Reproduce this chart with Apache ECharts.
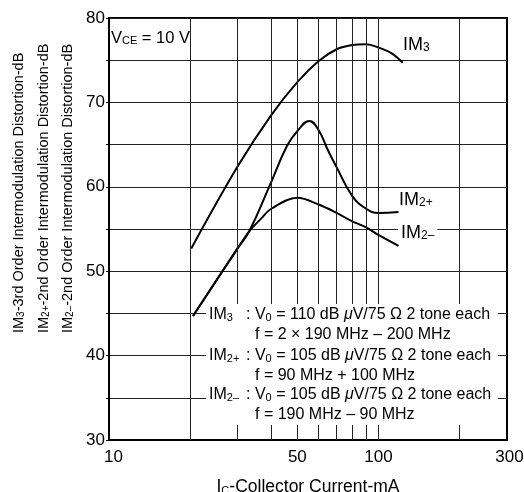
<!DOCTYPE html>
<html>
<head>
<meta charset="utf-8">
<script src="https://cdn.jsdelivr.net/npm/echarts@6/dist/echarts.min.js"></script>
<style>
  html, body { margin: 0; padding: 0; background: #fff; }
  #main { width: 524px; height: 492px; }
</style>
</head>
<body>
<div id="main"></div>
<script>
// collector current (mA) and distortion (dB)
var im3X = [20.2, 30, 40, 50, 60, 70, 80, 90, 100, 112, 123];
var im3Y = [52.7, 62.4, 68.5, 72.4, 74.9, 76.3, 76.8, 76.9, 76.5, 75.8, 74.7];

var im2pX = [20.5, 30, 33.1, 39.3, 45.7, 50, 55.4, 60, 65, 70, 80, 90, 100, 118.7];
var im2pY = [44.7, 52.7, 54.7, 60.0, 64.8, 66.6, 67.8, 66.7, 64.3, 62.3, 58.9, 57.4, 56.9, 57.0];

var im2mX = [20.5, 30, 33.1, 36.6, 40, 50, 60, 70, 80, 90, 100, 118.7];
var im2mY = [44.7, 52.7, 54.7, 56.2, 57.4, 58.7, 57.9, 56.9, 55.9, 55.2, 54.3, 53.0];

var xLabels = [10, 50, 100, 300];
var xGrid = [20, 30, 40, 50, 60, 70, 80, 90, 100, 200];

function pairs(xs, ys) {
  return xs.map(function (x, i) { return [x, ys[i]]; });
}

var font = '"Liberation Sans", Arial, sans-serif';
function richSet(size, subSize) {
  return {
    n: { fontSize: size, fontFamily: font, color: '#000' },
    s: { fontSize: subSize, fontFamily: font, color: '#000', verticalAlign: 'bottom' },
    i: { fontSize: size, fontFamily: font, fontStyle: 'italic', color: '#000' }
  };
}
var richNote = richSet(16, 11);
var richCurve = richSet(18, 12);
var richAxis = richSet(14.5, 10);

function txt(x, y, text, rich, extra) {
  var style = { text: text, rich: rich, fill: '#000', textVerticalAlign: 'middle' };
  var el = { type: 'text', x: x, y: y, z: 110, style: style };
  if (extra) {
    for (var k in extra) {
      if (k === 'style') { for (var s in extra.style) style[s] = extra.style[s]; }
      else el[k] = extra[k];
    }
  }
  return el;
}

var line = { color: '#000', width: 2 };

var option = {
  animation: false,
  backgroundColor: '#fff',
  grid: {
    left: 109, right: 17, top: 18, bottom: 52,
    outerBoundsMode: 'none',
    show: true, borderColor: '#000', borderWidth: 2
  },
  xAxis: {
    type: 'log', logBase: 10, min: 10, max: 300,
    axisLine: { lineStyle: { color: '#000', width: 2 } },
    axisTick: { show: false },
    splitLine: { show: false },
    axisLabel: {
      customValues: xLabels, color: '#000', fontSize: 17, fontFamily: font, margin: 9,
      formatter: function (v) {
        if (v === 10) return '{l|10}';
        if (v === 300) return '{r|300}';
        return String(v);
      },
      rich: {
        l: { fontSize: 17, fontFamily: font, color: '#000', padding: [0, 0, 0, 9] },
        r: { fontSize: 17, fontFamily: font, color: '#000', padding: [0, 0, 0, 5] }
      }
    },
    name: '{n|I}{s|C}{n|-Collector Current-mA}',
    nameLocation: 'middle', nameGap: 38,
    nameTextStyle: { rich: richSet(17.5, 11) }
  },
  yAxis: {
    type: 'value', min: 30, max: 80, interval: 5,
    axisLine: { lineStyle: { color: '#000', width: 2 } },
    axisTick: { show: true, length: 3, lineStyle: { color: '#000' } },
    splitLine: { lineStyle: { color: '#222', width: 1 } },
    axisLabel: {
      color: '#000', fontSize: 17, fontFamily: font, margin: 4,
      formatter: function (v) { return v % 10 === 0 ? String(v) : ''; }
    }
  },
  series: [
    {
      type: 'line', data: pairs(im3X, im3Y), smooth: 0.35, showSymbol: false, lineStyle: line,
      markLine: {
        silent: true, symbol: 'none', label: { show: false },
        lineStyle: { color: '#222', width: 1, type: 'solid' },
        data: xGrid.map(function (v) { return { xAxis: v }; })
      }
    },
    { type: 'line', data: pairs(im2pX, im2pY), smooth: 0.45, showSymbol: false, lineStyle: line },
    { type: 'line', data: pairs(im2mX, im2mY), smooth: 0.35, showSymbol: false, lineStyle: line }
  ],
  graphic: [
    { type: 'text', x: 66, y: -13, z: 110, style: { text: 'COLLECTOR CURRENT', font: '17px ' + font, fill: '#000' } },
    txt(111, 38, '{n|V}{s|CE}{n| = 10 V}', richSet(16.5, 11), { style: { backgroundColor: '#fff' } }),
    txt(403, 45, '{n|IM}{s|3}', richCurve),
    txt(399, 200, '{n|IM}{s|2+}', richCurve),
    txt(398, 233, '{n|IM}{s|2–}', richCurve, { style: { backgroundColor: '#fff', padding: [0, 3] } }),
    { type: 'rect', z: 105, shape: { x: 206, y: 304, width: 292, height: 121 }, style: { fill: '#fff' } },
    txt(209, 315, '{n|IM}{s|3}', richNote),
    txt(246, 315, '{n|: V}{s|0}{n| = 110 dB }{i|μ}{n|V/75 Ω 2 tone each}', richNote),
    txt(255, 335, '{n|f = 2 × 190 MHz – 200 MHz}', richNote),
    txt(209, 356, '{n|IM}{s|2+}', richNote),
    txt(246, 356, '{n|: V}{s|0}{n| = 105 dB }{i|μ}{n|V/75 Ω 2 tone each}', richNote),
    txt(255, 376, '{n|f = 90 MHz + 100 MHz}', richNote),
    txt(209, 395, '{n|IM}{s|2–}', richNote),
    txt(246, 395, '{n|: V}{s|0}{n| = 105 dB }{i|μ}{n|V/75 Ω 2 tone each}', richNote),
    txt(255, 415, '{n|f = 190 MHz – 90 MHz}', richNote),
    txt(19, 333, '{n|IM}{s|3}{n|-3rd Order Intermodulation Distortion-dB}', richAxis, { rotation: Math.PI / 2 }),
    txt(44, 333, '{n|IM}{s|2+}{n|-2nd Order Intermodulation Distortion-dB}', richAxis, { rotation: Math.PI / 2 }),
    txt(68, 333, '{n|IM}{s|2–}{n|-2nd Order Intermodulation Distortion-dB}', richAxis, { rotation: Math.PI / 2 })
  ]
};

var myChart = echarts.init(document.getElementById('main'));
myChart.setOption(option);
</script>
</body>
</html>
